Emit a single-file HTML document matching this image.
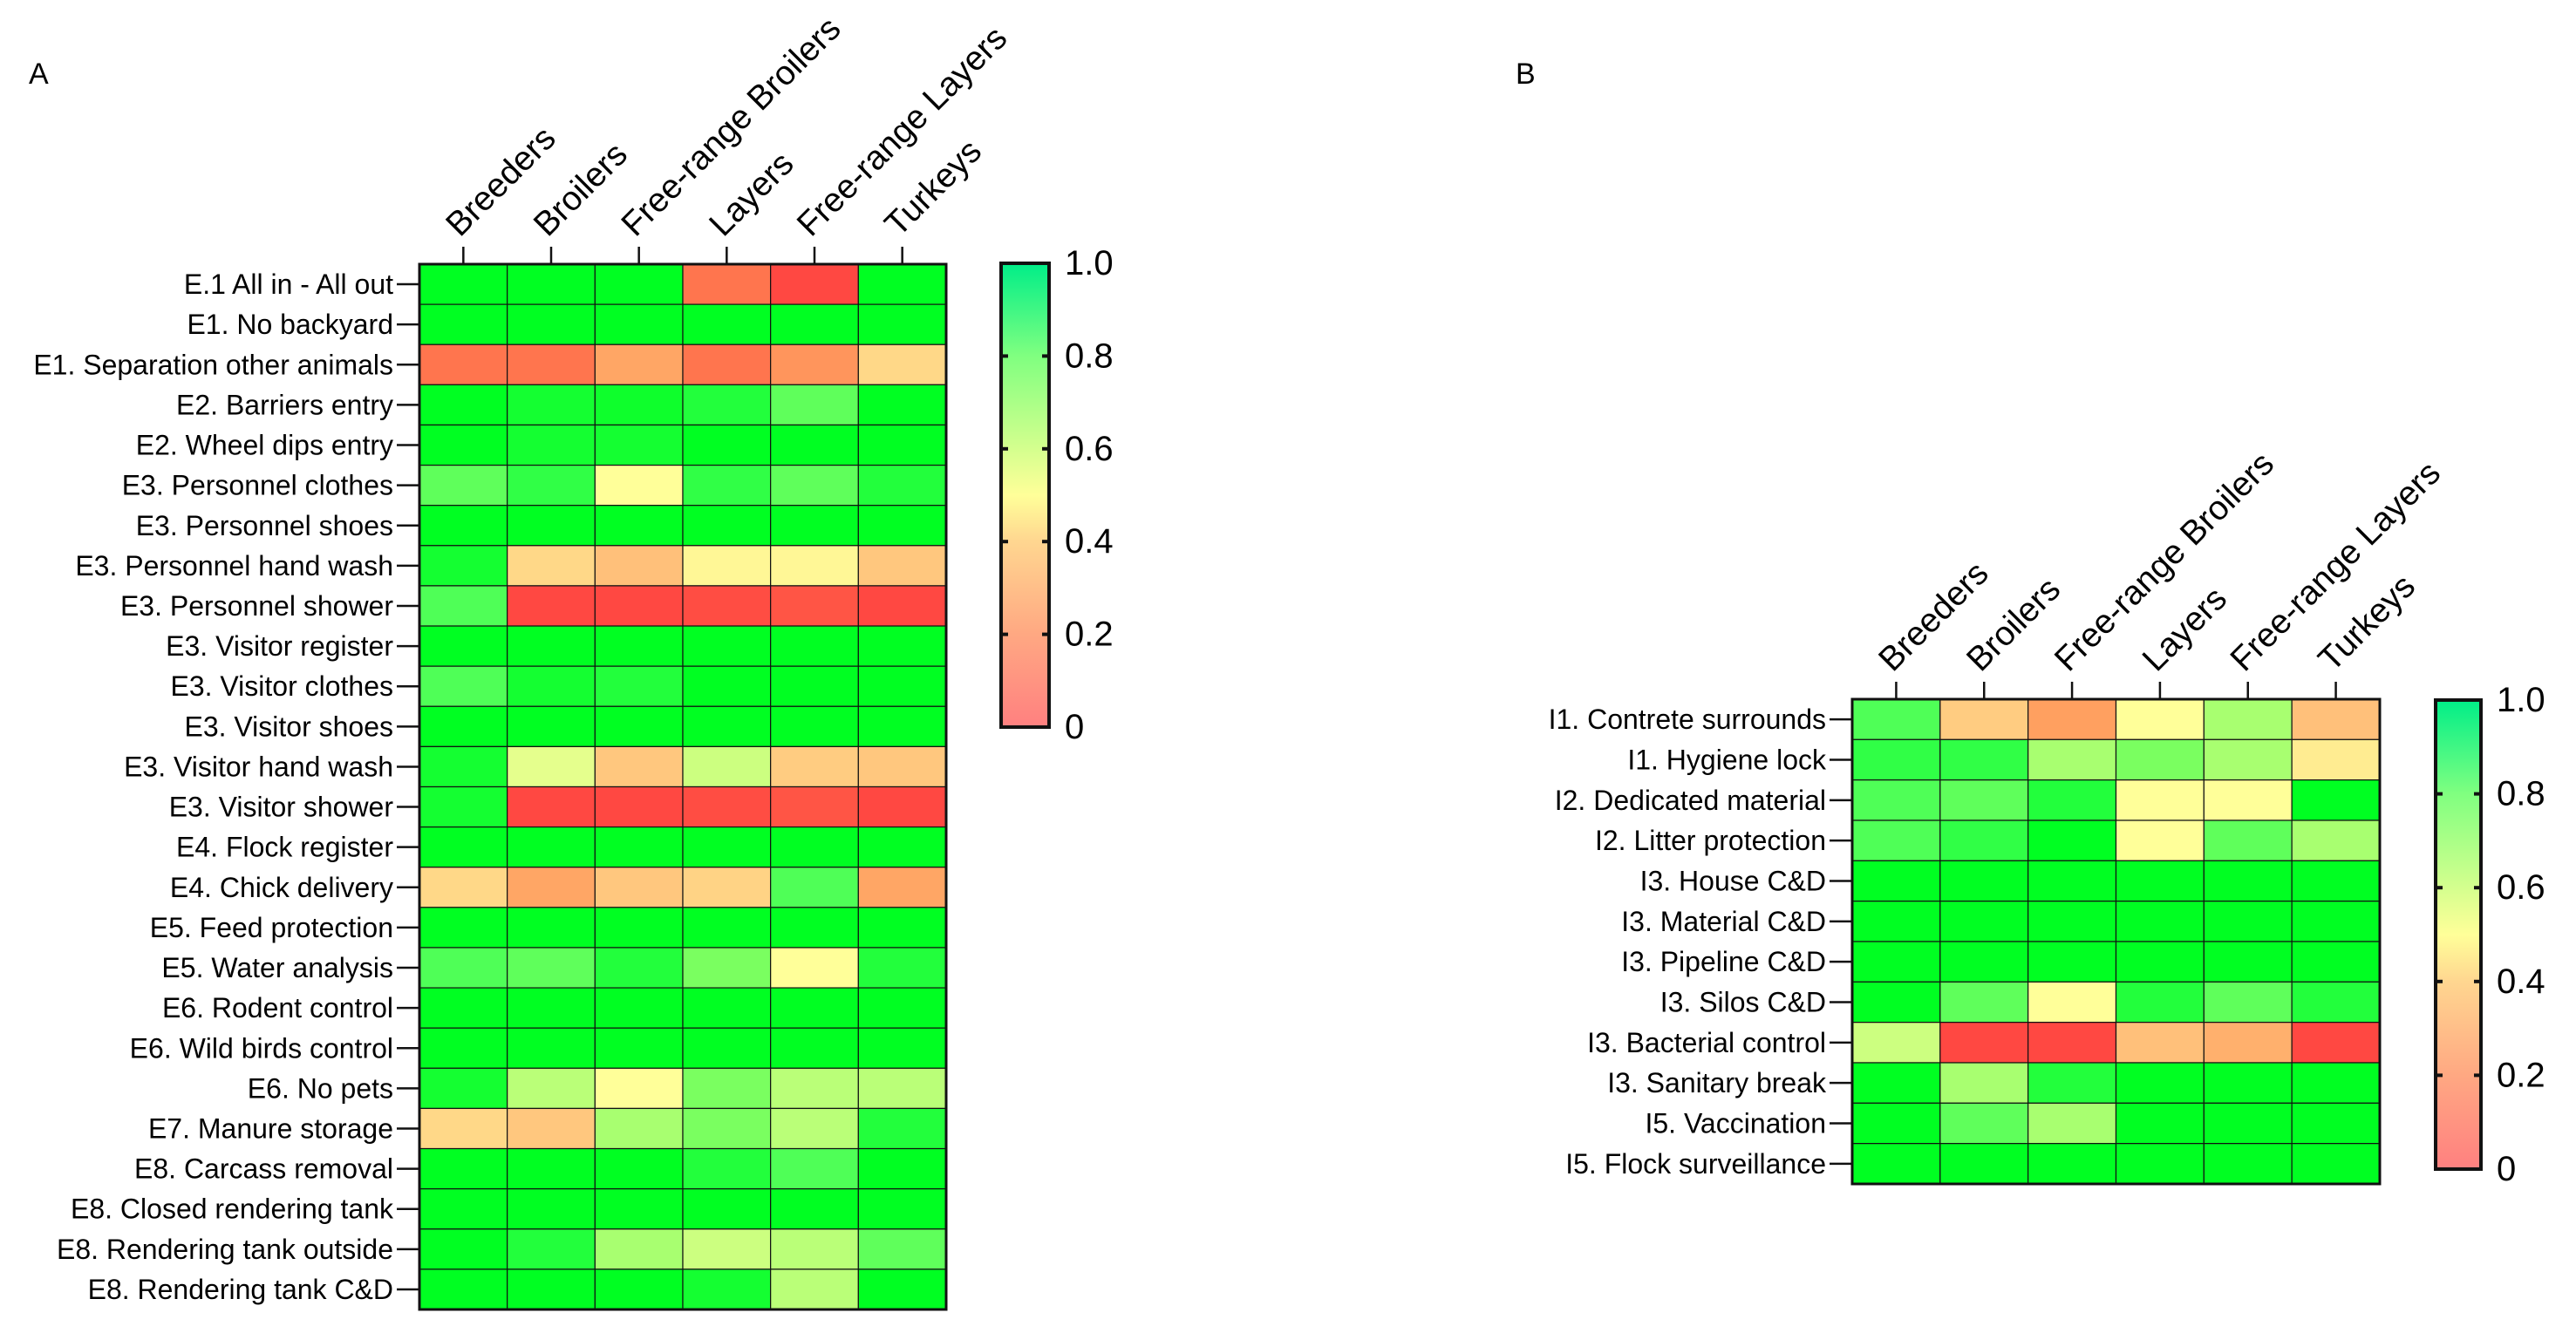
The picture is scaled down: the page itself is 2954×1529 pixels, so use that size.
<!DOCTYPE html>
<html><head><meta charset="utf-8"><style>
html,body{margin:0;padding:0;background:#fff;}
svg{display:block;font-family:"Liberation Sans",sans-serif;}
</style></head><body>
<svg id="chart" width="2954" height="1529" viewBox="0 0 2954 1529" xmlns="http://www.w3.org/2000/svg">
<defs>
<linearGradient id="cbar" x1="0" y1="1" x2="0" y2="0">
<stop offset="0" stop-color="#ff8080"/>
<stop offset="0.2" stop-color="#ffa882"/>
<stop offset="0.4" stop-color="#ffd690"/>
<stop offset="0.5" stop-color="#ffff99"/>
<stop offset="0.6" stop-color="#d4ff8e"/>
<stop offset="0.8" stop-color="#80ff80"/>
<stop offset="1" stop-color="#00ee88"/>
</linearGradient>
</defs>
<text x="33" y="96" font-size="34">A</text>
<text x="1738" y="96" font-size="34">B</text>
<g id="gA"></g><g id="gB"></g>
</svg>
<script>
const categories = ["Breeders","Broilers","Free-range Broilers","Layers","Free-range Layers","Turkeys"];
const rowsA = ["E.1 All in - All out","E1. No backyard","E1. Separation other animals","E2. Barriers entry","E2. Wheel dips entry","E3. Personnel clothes","E3. Personnel shoes","E3. Personnel hand wash","E3. Personnel shower","E3. Visitor register","E3. Visitor clothes","E3. Visitor shoes","E3. Visitor hand wash","E3. Visitor shower","E4. Flock register","E4. Chick delivery","E5. Feed protection","E5. Water analysis","E6. Rodent control","E6. Wild birds control","E6. No pets","E7. Manure storage","E8. Carcass removal","E8. Closed rendering tank","E8. Rendering tank outside","E8. Rendering tank C&D"];
const valuesA = [
[1,1,1,0.12,0.02,1],[1,1,1,1,1,1],[0.12,0.12,0.22,0.12,0.18,0.4],[1,0.97,0.98,0.95,0.85,1],
[1,0.97,0.97,1,1,1],[0.85,0.93,0.5,0.93,0.85,0.95],[1,1,1,1,1,1],[0.97,0.4,0.3,0.48,0.48,0.33],
[0.88,0.02,0.02,0.03,0.05,0.02],[1,1,1,1,1,1],[0.88,0.97,0.95,1,1,1],[1,1,1,1,1,1],
[0.97,0.55,0.33,0.6,0.35,0.33],[0.97,0.02,0.02,0.03,0.05,0.02],[1,1,1,1,1,1],[0.4,0.22,0.33,0.38,0.88,0.22],
[1,1,1,1,1,1],[0.88,0.85,0.95,0.8,0.5,0.95],[1,1,1,1,1,1],[1,1,1,1,1,1],
[0.97,0.65,0.5,0.8,0.65,0.65],[0.4,0.33,0.7,0.8,0.65,0.95],[1,1,1,0.95,0.88,1],[1,1,1,1,1,1],
[1,0.95,0.7,0.6,0.65,0.85],[1,1,1,0.97,0.65,1]];
const rowsB = ["I1. Contrete surrounds","I1. Hygiene lock","I2. Dedicated material","I2. Litter protection","I3. House C&D","I3. Material C&D","I3. Pipeline C&D","I3. Silos C&D","I3. Bacterial control","I3. Sanitary break","I5. Vaccination","I5. Flock surveillance"];
const valuesB = [
[0.88,0.35,0.2,0.5,0.7,0.3],[0.93,0.93,0.7,0.8,0.7,0.45],[0.88,0.85,0.95,0.5,0.5,1],[0.88,0.93,1,0.5,0.85,0.7],
[1,1,1,1,1,1],[1,1,1,1,1,1],[1,1,1,1,1,1],[1,0.85,0.5,0.95,0.85,0.95],
[0.6,0.02,0.02,0.3,0.25,0.02],[1,0.7,0.95,1,1,1],[1,0.85,0.7,1,1,1],[1,1,1,1,1,1]];
const cbarTicks = [0,0.2,0.4,0.6,0.8,1.0];
const cbarLabels = ["0","0.2","0.4","0.6","0.8","1.0"];

const NS="http://www.w3.org/2000/svg";
const stops=[[0,[255,64,64]],[0.1,[255,106,74]],[0.2,[255,160,96]],[0.3,[255,192,122]],[0.4,[255,216,136]],[0.5,[255,255,153]],[0.6,[204,255,128]],[0.7,[168,255,112]],[0.8,[122,255,96]],[0.9,[68,255,85]],[1,[0,255,34]]];
function color(v){
  v=Math.max(0,Math.min(1,v));
  for(let i=1;i<stops.length;i++){ if(v<=stops[i][0]){const a=stops[i-1],b=stops[i];const t=(v-a[0])/(b[0]-a[0]);
    return "rgb("+a[1].map((c,k)=>Math.round(c+(b[1][k]-c)*t)).join(",")+")";}}
  return "rgb(0,255,34)";
}
function mk(tag,attrs,parent){const e=document.createElementNS(NS,tag);for(const k in attrs)e.setAttribute(k,attrs[k]);parent.appendChild(e);return e;}

function heatmap(g,rows,vals,x0,x1,y0,y1,cb,pfx){
  const cw=(x1-x0)/categories.length, rh=(y1-y0)/rows.length;
  const xs=i=>x0+i*cw, ys=j=>y0+j*rh;
  vals.forEach((row,j)=>row.forEach((v,i)=>{
    const r=mk("rect",{x:xs(i),y:ys(j),width:cw,height:rh,fill:color(v),stroke:"#111","stroke-width":1.2},g);
    
    
  }));
  const fr=mk("rect",{x:x0,y:y0,width:x1-x0,height:y1-y0,fill:"none",stroke:"#111","stroke-width":3},g);
  
  
  rows.forEach((name,j)=>{
    const cy=ys(j)+rh/2;
    mk("line",{x1:x0-26,x2:x0,y1:cy,y2:cy,stroke:"#111","stroke-width":2.5},g);
    const t=mk("text",{x:x0-30,y:cy,"font-size":32,"text-anchor":"end","dominant-baseline":"central"},g);
    t.textContent=name;
    
    
  });
  categories.forEach((name,i)=>{
    const cx=xs(i)+cw/2;
    mk("line",{x1:cx,x2:cx,y1:y0-20,y2:y0,stroke:"#111","stroke-width":2.5},g);
    const ty=y0-30;
    const t=mk("text",{x:cx-4,y:ty,"font-size":39,transform:"rotate(-45 "+(cx-4)+" "+ty+")"},g);
    t.textContent=name;
    
    
  });
  const [bx0,bx1,by0,by1]=cb;
  const cbr=mk("rect",{x:bx0,y:by0,width:bx1-bx0,height:by1-by0,fill:"url(#cbar)",stroke:"#111","stroke-width":4},g);
  
  
  const cyf=v=>by1-(by1-by0)*v;
  cbarTicks.forEach((v,k)=>{
    const y=cyf(v);
    if(v>0&&v<1){mk("line",{x1:bx0,x2:bx0+8,y1:y,y2:y,stroke:"#111","stroke-width":4},g);
      mk("line",{x1:bx1-8,x2:bx1,y1:y,y2:y,stroke:"#111","stroke-width":4},g);}
    const t=mk("text",{x:bx1+18,y:y,"font-size":40,"dominant-baseline":"central"},g);
    t.textContent=cbarLabels[k];
    
    
  });
}
heatmap(document.getElementById("gA"),rowsA,valuesA,481,1085,303,1502,[1148,1203,302,834],"panel-a");
heatmap(document.getElementById("gB"),rowsB,valuesB,2124,2729,802,1358,[2793,2845,803,1341],"panel-b");
</script>
</body></html>
